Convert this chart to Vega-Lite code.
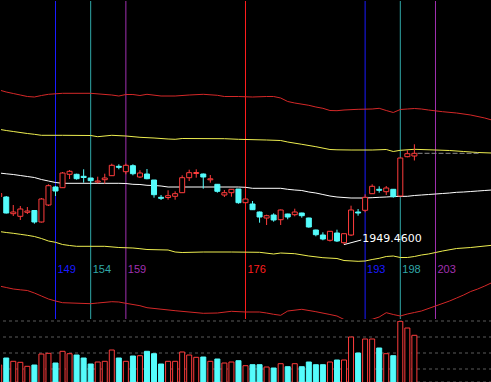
{
  "$schema": "https://vega.github.io/schema/vega-lite/v6.json",
  "background": "#000000",
  "padding": 0,
  "spacing": 0,
  "config": {"view": {"stroke": null}, "concat": {"spacing": 0}},
  "resolve": {"scale": {"x": "independent", "y": "independent", "color": "independent", "fill": "independent", "stroke": "independent"}},
  "datasets": {
    "cycles": [
      {"i": 149, "kind": "a"}, {"i": 154, "kind": "b"}, {"i": 159, "kind": "c"}, {"i": 176, "kind": "m"},
      {"i": 193, "kind": "a"}, {"i": 198, "kind": "b"}, {"i": 203, "kind": "c"}
    ],
    "candles": [
      {"i":141,"d":"up","o":2069.71,"h":2083.46,"l":2065.96,"c":2077.21,"v":400},
      {"i":142,"d":"dn","o":2068.46,"h":2070.96,"l":2027.21,"c":2028.46,"v":540},
      {"i":143,"d":"up","o":2026.71,"h":2048.46,"l":2020.96,"c":2030.96,"v":474},
      {"i":144,"d":"up","o":2020.21,"h":2045.96,"l":2010.96,"c":2038.46,"v":454},
      {"i":145,"d":"up","o":2030.21,"h":2043.46,"l":2025.96,"c":2033.46,"v":374},
      {"i":146,"d":"dn","o":2034.71,"h":2035.96,"l":2001.71,"c":2005.96,"v":400},
      {"i":147,"d":"up","o":2005.96,"h":2065.96,"l":2004.71,"c":2063.46,"v":620},
      {"i":148,"d":"up","o":2048.46,"h":2100.21,"l":2045.96,"c":2096.71,"v":634},
      {"i":149,"d":"dn","o":2093.46,"h":2095.96,"l":2070.96,"c":2083.46,"v":440},
      {"i":150,"d":"up","o":2091.71,"h":2130.96,"l":2090.96,"c":2128.46,"v":674},
      {"i":151,"d":"up","o":2125.21,"h":2135.96,"l":2113.46,"c":2132.71,"v":626},
      {"i":152,"d":"dn","o":2125.21,"h":2126.71,"l":2111.71,"c":2114.21,"v":600},
      {"i":153,"d":"dn","o":2120.21,"h":2137.71,"l":2104.21,"c":2117.21,"v":540},
      {"i":154,"d":"dn","o":2115.96,"h":2115.96,"l":2100.21,"c":2109.21,"v":420},
      {"i":155,"d":"up","o":2105.96,"h":2119.21,"l":2102.71,"c":2108.46,"v":460},
      {"i":156,"d":"up","o":2111.71,"h":2126.71,"l":2101.71,"c":2115.96,"v":474},
      {"i":157,"d":"up","o":2121.71,"h":2151.71,"l":2120.96,"c":2147.71,"v":700},
      {"i":158,"d":"dn","o":2145.21,"h":2150.21,"l":2137.71,"c":2142.71,"v":540},
      {"i":159,"d":"up","o":2131.71,"h":2151.71,"l":2125.21,"c":2147.71,"v":474},
      {"i":160,"d":"dn","o":2146.71,"h":2150.21,"l":2122.71,"c":2126.71,"v":580},
      {"i":161,"d":"up","o":2118.46,"h":2135.21,"l":2115.96,"c":2128.46,"v":586},
      {"i":162,"d":"dn","o":2125.96,"h":2138.46,"l":2112.71,"c":2114.21,"v":674},
      {"i":163,"d":"dn","o":2110.96,"h":2110.96,"l":2066.71,"c":2074.21,"v":626},
      {"i":164,"d":"dn","o":2067.71,"h":2073.46,"l":2060.96,"c":2065.21,"v":420},
      {"i":165,"d":"up","o":2067.21,"h":2085.21,"l":2061.71,"c":2071.71,"v":474},
      {"i":166,"d":"up","o":2070.21,"h":2082.71,"l":2061.71,"c":2076.71,"v":474},
      {"i":167,"d":"up","o":2079.21,"h":2122.71,"l":2078.46,"c":2116.71,"v":660},
      {"i":168,"d":"up","o":2116.71,"h":2136.71,"l":2108.46,"c":2129.21,"v":600},
      {"i":169,"d":"up","o":2127.21,"h":2137.71,"l":2116.71,"c":2129.71,"v":554},
      {"i":170,"d":"dn","o":2125.96,"h":2127.21,"l":2089.21,"c":2118.46,"v":560},
      {"i":171,"d":"up","o":2111.46,"h":2123.46,"l":2104.21,"c":2113.96,"v":474},
      {"i":172,"d":"dn","o":2100.21,"h":2100.96,"l":2079.21,"c":2082.71,"v":520},
      {"i":173,"d":"up","o":2073.46,"h":2085.96,"l":2068.46,"c":2079.21,"v":440},
      {"i":174,"d":"up","o":2079.21,"h":2088.46,"l":2069.21,"c":2087.71,"v":460},
      {"i":175,"d":"dn","o":2088.46,"h":2088.46,"l":2051.71,"c":2054.21,"v":486},
      {"i":176,"d":"up","o":2054.21,"h":2064.71,"l":2053.46,"c":2063.46,"v":386},
      {"i":177,"d":"dn","o":2050.96,"h":2058.46,"l":2035.96,"c":2036.71,"v":406},
      {"i":178,"d":"dn","o":2030.96,"h":2032.21,"l":2004.21,"c":2018.46,"v":406},
      {"i":179,"d":"up","o":2015.96,"h":2024.21,"l":1998.46,"c":2021.71,"v":360},
      {"i":180,"d":"dn","o":2023.46,"h":2027.71,"l":2006.71,"c":2010.96,"v":340},
      {"i":181,"d":"up","o":2011.71,"h":2037.21,"l":1998.46,"c":2035.96,"v":426},
      {"i":182,"d":"dn","o":2025.96,"h":2026.71,"l":2012.71,"c":2018.46,"v":366},
      {"i":183,"d":"up","o":2024.21,"h":2039.21,"l":2020.21,"c":2030.96,"v":426},
      {"i":184,"d":"dn","o":2028.46,"h":2029.21,"l":2016.71,"c":2021.71,"v":366},
      {"i":185,"d":"dn","o":2015.96,"h":2016.71,"l":1991.71,"c":1993.46,"v":460},
      {"i":186,"d":"dn","o":1985.96,"h":1986.71,"l":1970.21,"c":1974.21,"v":406},
      {"i":187,"d":"dn","o":1973.46,"h":1980.21,"l":1960.21,"c":1963.46,"v":406},
      {"i":188,"d":"up","o":1960.21,"h":1983.46,"l":1957.21,"c":1982.71,"v":460},
      {"i":189,"d":"dn","o":1978.46,"h":1986.71,"l":1955.96,"c":1958.46,"v":500},
      {"i":190,"d":"up","o":1954.21,"h":1977.21,"l":1949.46,"c":1976.71,"v":500},
      {"i":191,"d":"up","o":1973.46,"h":2046.71,"l":1970.96,"c":2035.96,"v":960},
      {"i":192,"d":"dn","o":2030.96,"h":2038.46,"l":2021.71,"c":2028.46,"v":640},
      {"i":193,"d":"up","o":2035.21,"h":2075.21,"l":2030.21,"c":2067.71,"v":920},
      {"i":194,"d":"up","o":2076.71,"h":2100.21,"l":2075.96,"c":2095.21,"v":920},
      {"i":195,"d":"dn","o":2087.71,"h":2095.21,"l":2079.21,"c":2085.21,"v":740},
      {"i":196,"d":"up","o":2081.71,"h":2095.96,"l":2073.46,"c":2090.96,"v":626},
      {"i":197,"d":"dn","o":2087.71,"h":2088.46,"l":2066.71,"c":2069.21,"v":586},
      {"i":198,"d":"up","o":2070.96,"h":2165.96,"l":2070.21,"c":2165.96,"v":1274},
      {"i":199,"d":"up","o":2169.21,"h":2185.21,"l":2167.71,"c":2176.71,"v":1140},
      {"i":200,"d":"up","o":2170.96,"h":2200.21,"l":2159.71,"c":2177.71,"v":994}
    ],
    "bands": [
      {"i":141,"b":"ru","p":2335.96},{"i":142,"b":"ru","p":2330.96},{"i":143,"b":"ru","p":2327.21},{"i":144,"b":"ru","p":2323.46},
      {"i":145,"b":"ru","p":2319.71},{"i":146,"b":"ru","p":2318.46},{"i":147,"b":"ru","p":2322.21},{"i":148,"b":"ru","p":2325.21},
      {"i":150,"b":"ru","p":2327.71},{"i":154,"b":"ru","p":2327.71},{"i":157,"b":"ru","p":2323.46},{"i":158,"b":"ru","p":2320.96},
      {"i":159,"b":"ru","p":2324.71},{"i":160,"b":"ru","p":2324.71},{"i":161,"b":"ru","p":2322.21},{"i":162,"b":"ru","p":2325.21},
      {"i":164,"b":"ru","p":2320.96},{"i":166,"b":"ru","p":2320.96},{"i":168,"b":"ru","p":2323.46},{"i":170,"b":"ru","p":2325.21},
      {"i":172,"b":"ru","p":2322.71},{"i":173,"b":"ru","p":2319.71},{"i":175,"b":"ru","p":2319.71},{"i":177,"b":"ru","p":2318.46},
      {"i":179,"b":"ru","p":2319.71},{"i":180,"b":"ru","p":2319.71},{"i":181,"b":"ru","p":2315.96},{"i":182,"b":"ru","p":2307.21},
      {"i":183,"b":"ru","p":2303.46},{"i":185,"b":"ru","p":2297.71},{"i":186,"b":"ru","p":2293.46},{"i":187,"b":"ru","p":2290.21},
      {"i":188,"b":"ru","p":2284.71},{"i":189,"b":"ru","p":2284.21},{"i":190,"b":"ru","p":2285.96},{"i":192,"b":"ru","p":2287.71},
      {"i":194,"b":"ru","p":2288.46},{"i":195,"b":"ru","p":2290.21},{"i":196,"b":"ru","p":2284.71},{"i":197,"b":"ru","p":2279.71},
      {"i":198,"b":"ru","p":2287.21},{"i":199,"b":"ru","p":2288.46},{"i":200,"b":"ru","p":2289.71},{"i":201,"b":"ru","p":2288.46},
      {"i":202,"b":"ru","p":2285.96},{"i":204,"b":"ru","p":2281.71},{"i":206,"b":"ru","p":2278.46},{"i":208,"b":"ru","p":2273.46},
      {"i":210,"b":"ru","p":2265.96},{"i":211,"b":"ru","p":2260.96},

      {"i":141,"b":"yu","p":2237.71},{"i":142,"b":"yu","p":2234.71},{"i":143,"b":"yu","p":2232.21},{"i":145,"b":"yu","p":2227.21},
      {"i":146,"b":"yu","p":2225.21},{"i":147,"b":"yu","p":2222.71},{"i":150,"b":"yu","p":2222.71},{"i":154,"b":"yu","p":2222.21},
      {"i":155,"b":"yu","p":2219.21},{"i":157,"b":"yu","p":2222.71},{"i":159,"b":"yu","p":2220.96},{"i":161,"b":"yu","p":2217.71},
      {"i":163,"b":"yu","p":2215.96},{"i":165,"b":"yu","p":2213.46},{"i":166,"b":"yu","p":2212.71},{"i":167,"b":"yu","p":2214.71},
      {"i":173,"b":"yu","p":2214.21},{"i":175,"b":"yu","p":2212.71},{"i":179,"b":"yu","p":2210.96},{"i":181,"b":"yu","p":2209.71},
      {"i":182,"b":"yu","p":2205.96},{"i":184,"b":"yu","p":2200.21},{"i":186,"b":"yu","p":2194.21},{"i":188,"b":"yu","p":2187.21},
      {"i":189,"b":"yu","p":2186.46},{"i":191,"b":"yu","p":2185.96},{"i":194,"b":"yu","p":2185.96},{"i":196,"b":"yu","p":2187.21},
      {"i":197,"b":"yu","p":2182.21},{"i":198,"b":"yu","p":2185.21},{"i":200,"b":"yu","p":2187.71},{"i":203,"b":"yu","p":2185.96},
      {"i":205,"b":"yu","p":2184.71},{"i":207,"b":"yu","p":2182.21},{"i":209,"b":"yu","p":2179.71},{"i":211,"b":"yu","p":2178.46},

      {"i":141,"b":"md","p":2128.46},{"i":142,"b":"md","p":2126.46},{"i":143,"b":"md","p":2124.71},{"i":144,"b":"md","p":2122.21},
      {"i":145,"b":"md","p":2119.71},{"i":146,"b":"md","p":2117.21},{"i":147,"b":"md","p":2112.21},{"i":148,"b":"md","p":2108.46},
      {"i":149,"b":"md","p":2104.71},{"i":150,"b":"md","p":2102.71},{"i":158,"b":"md","p":2102.71},{"i":159,"b":"md","p":2102.21},
      {"i":160,"b":"md","p":2100.21},{"i":161,"b":"md","p":2099.71},{"i":162,"b":"md","p":2097.71},{"i":163,"b":"md","p":2097.21},
      {"i":164,"b":"md","p":2095.96},{"i":165,"b":"md","p":2093.46},{"i":175,"b":"md","p":2093.46},{"i":176,"b":"md","p":2092.71},
      {"i":177,"b":"md","p":2090.21},{"i":181,"b":"md","p":2090.21},{"i":182,"b":"md","p":2087.71},{"i":183,"b":"md","p":2085.96},
      {"i":184,"b":"md","p":2084.71},{"i":185,"b":"md","p":2080.96},{"i":186,"b":"md","p":2078.46},{"i":187,"b":"md","p":2074.71},
      {"i":188,"b":"md","p":2070.96},{"i":189,"b":"md","p":2068.46},{"i":190,"b":"md","p":2067.21},{"i":191,"b":"md","p":2065.96},
      {"i":193,"b":"md","p":2065.96},{"i":194,"b":"md","p":2066.71},{"i":195,"b":"md","p":2067.71},{"i":196,"b":"md","p":2068.46},
      {"i":197,"b":"md","p":2069.71},{"i":199,"b":"md","p":2070.21},{"i":200,"b":"md","p":2072.21},{"i":201,"b":"md","p":2073.46},
      {"i":202,"b":"md","p":2074.71},{"i":203,"b":"md","p":2075.96},{"i":204,"b":"md","p":2077.21},{"i":205,"b":"md","p":2078.46},
      {"i":206,"b":"md","p":2080.21},{"i":207,"b":"md","p":2080.96},{"i":208,"b":"md","p":2082.21},{"i":209,"b":"md","p":2083.46},
      {"i":210,"b":"md","p":2084.71},{"i":211,"b":"md","p":2085.96},

      {"i":141,"b":"yl","p":1982.21},{"i":142,"b":"yl","p":1979.71},{"i":143,"b":"yl","p":1977.71},{"i":144,"b":"yl","p":1975.21},
      {"i":145,"b":"yl","p":1972.71},{"i":146,"b":"yl","p":1969.71},{"i":147,"b":"yl","p":1964.71},{"i":148,"b":"yl","p":1958.46},
      {"i":149,"b":"yl","p":1955.21},{"i":150,"b":"yl","p":1949.71},{"i":151,"b":"yl","p":1947.21},{"i":152,"b":"yl","p":1945.21},
      {"i":156,"b":"yl","p":1945.21},{"i":158,"b":"yl","p":1942.21},{"i":160,"b":"yl","p":1940.96},{"i":161,"b":"yl","p":1939.21},
      {"i":162,"b":"yl","p":1937.21},{"i":165,"b":"yl","p":1935.96},{"i":166,"b":"yl","p":1930.96},{"i":167,"b":"yl","p":1929.71},
      {"i":170,"b":"yl","p":1930.96},{"i":174,"b":"yl","p":1930.96},{"i":178,"b":"yl","p":1930.21},{"i":180,"b":"yl","p":1925.96},
      {"i":181,"b":"yl","p":1928.46},{"i":183,"b":"yl","p":1926.71},{"i":185,"b":"yl","p":1920.96},{"i":187,"b":"yl","p":1916.71},
      {"i":189,"b":"yl","p":1914.71},{"i":190,"b":"yl","p":1909.71},{"i":192,"b":"yl","p":1907.71},{"i":193,"b":"yl","p":1908.46},
      {"i":194,"b":"yl","p":1912.21},{"i":195,"b":"yl","p":1915.21},{"i":196,"b":"yl","p":1919.71},{"i":197,"b":"yl","p":1920.96},
      {"i":198,"b":"yl","p":1917.21},{"i":199,"b":"yl","p":1917.21},{"i":200,"b":"yl","p":1919.71},{"i":201,"b":"yl","p":1923.46},
      {"i":202,"b":"yl","p":1925.96},{"i":203,"b":"yl","p":1929.71},{"i":204,"b":"yl","p":1933.46},{"i":206,"b":"yl","p":1939.71},
      {"i":208,"b":"yl","p":1942.21},{"i":211,"b":"yl","p":1947.71},

      {"i":141,"b":"rl","p":1845.96},{"i":142,"b":"rl","p":1842.21},{"i":143,"b":"rl","p":1838.46},{"i":144,"b":"rl","p":1836.46},
      {"i":145,"b":"rl","p":1834.71},{"i":146,"b":"rl","p":1828.46},{"i":147,"b":"rl","p":1820.96},{"i":148,"b":"rl","p":1813.46},
      {"i":149,"b":"rl","p":1808.46},{"i":150,"b":"rl","p":1804.21},{"i":154,"b":"rl","p":1801.71},{"i":155,"b":"rl","p":1803.46},
      {"i":157,"b":"rl","p":1806.71},{"i":158,"b":"rl","p":1805.96},{"i":159,"b":"rl","p":1802.71},{"i":161,"b":"rl","p":1796.71},
      {"i":162,"b":"rl","p":1791.71},{"i":166,"b":"rl","p":1784.21},{"i":170,"b":"rl","p":1777.71},{"i":172,"b":"rl","p":1778.46},
      {"i":174,"b":"rl","p":1782.71},{"i":176,"b":"rl","p":1780.96},{"i":178,"b":"rl","p":1780.96},{"i":179,"b":"rl","p":1778.46},
      {"i":180,"b":"rl","p":1775.21},{"i":181,"b":"rl","p":1772.71},{"i":182,"b":"rl","p":1783.46},{"i":184,"b":"rl","p":1787.71},
      {"i":186,"b":"rl","p":1781.71},{"i":188,"b":"rl","p":1774.71},{"i":189,"b":"rl","p":1770.96},{"i":190,"b":"rl","p":1762.21},
      {"i":192,"b":"rl","p":1758.46},{"i":193,"b":"rl","p":1760.96},{"i":194,"b":"rl","p":1762.71},{"i":195,"b":"rl","p":1768.46},
      {"i":196,"b":"rl","p":1779.21},{"i":197,"b":"rl","p":1774.71},{"i":198,"b":"rl","p":1770.96},{"i":199,"b":"rl","p":1775.96},
      {"i":200,"b":"rl","p":1779.71},{"i":201,"b":"rl","p":1783.46},{"i":203,"b":"rl","p":1795.96},{"i":205,"b":"rl","p":1808.46},
      {"i":206,"b":"rl","p":1815.96},{"i":207,"b":"rl","p":1823.46},{"i":208,"b":"rl","p":1832.21},{"i":209,"b":"rl","p":1838.46},
      {"i":210,"b":"rl","p":1845.96},{"i":211,"b":"rl","p":1854.21}
    ],
    "note": [{"i": 190, "p": 1949.46, "i2": 192.45, "p2": 1960.96, "ti": 192.6, "tp": 1963.46, "t": "1949.4600"}],
    "last": [{"i": 200.45, "i2": 209.2, "p": 2177.71}],
    "grid": [{"v": 1280}, {"v": 960}, {"v": 640}, {"v": 320}, {"v": 60}]
  },
  "vconcat": [
    {
      "width": 491,
      "height": 318,
      "resolve": {"scale": {"color": "independent", "fill": "independent", "stroke": "independent"}},
      "encoding": {
        "x": {"field": "i", "type": "quantitative", "scale": {"domain": [141.255, 211.03], "nice": false, "zero": false, "padding": 0}, "axis": null}
      },
      "layer": [
        {
          "data": {"name": "cycles"},
          "mark": {"type": "rule", "strokeWidth": 1},
          "encoding": {
            "color": {"field": "kind", "type": "nominal", "scale": {"domain": ["a", "b", "c", "m"], "range": ["#1a1aff", "#30a8a8", "#a030b0", "#ff1e1e"]}, "legend": null}
          }
        },
        {
          "data": {"name": "cycles"},
          "mark": {"type": "text", "align": "left", "baseline": "middle", "dx": 2, "font": "Liberation Sans", "fontSize": 11},
          "encoding": {
            "y": {"datum": 1885.96, "type": "quantitative", "scale": {"domain": [1763.46, 2558.46], "nice": false, "zero": false}, "axis": null},
            "text": {"field": "i", "type": "quantitative", "format": "d"},
            "color": {"field": "kind", "type": "nominal", "scale": {"domain": ["a", "b", "c", "m"], "range": ["#1a1aff", "#30a8a8", "#a030b0", "#ff1e1e"]}, "legend": null}
          }
        },
        {
          "data": {"name": "bands"},
          "mark": {"type": "line", "strokeWidth": 1, "clip": true},
          "encoding": {
            "y": {"field": "p", "type": "quantitative", "scale": {"domain": [1763.46, 2558.46], "nice": false, "zero": false}, "axis": null},
            "color": {"field": "b", "type": "nominal", "scale": {"domain": ["ru", "yu", "md", "yl", "rl"], "range": ["#d42828", "#eeee50", "#ffffff", "#eeee50", "#d42828"]}, "legend": null}
          }
        },
        {
          "data": {"name": "candles"},
          "mark": {"type": "rule", "strokeWidth": 1, "clip": true},
          "encoding": {
            "y": {"field": "l", "type": "quantitative", "scale": {"domain": [1763.46, 2558.46], "nice": false, "zero": false}, "axis": null},
            "y2": {"field": "h"},
            "color": {"field": "d", "type": "nominal", "scale": {"domain": ["up", "dn"], "range": ["#ff3c3c", "#54fcfc"]}, "legend": null}
          }
        },
        {
          "data": {"name": "candles"},
          "mark": {"type": "bar", "width": 5, "strokeWidth": 1, "clip": true},
          "encoding": {
            "y": {"field": "o", "type": "quantitative", "scale": {"domain": [1763.46, 2558.46], "nice": false, "zero": false}, "axis": null},
            "y2": {"field": "c"},
            "fill": {"field": "d", "type": "nominal", "scale": {"domain": ["up", "dn"], "range": ["#000000", "#54fcfc"]}, "legend": null},
            "stroke": {"field": "d", "type": "nominal", "scale": {"domain": ["up", "dn"], "range": ["#ff3c3c", "#54fcfc"]}, "legend": null}
          }
        },
        {
          "data": {"name": "note"},
          "mark": {"type": "rule", "color": "#ffffff", "strokeWidth": 1},
          "encoding": {
            "y": {"field": "p", "type": "quantitative", "scale": {"domain": [1763.46, 2558.46], "nice": false, "zero": false}, "axis": null},
            "x2": {"field": "i2"},
            "y2": {"field": "p2"}
          }
        },
        {
          "data": {"name": "note"},
          "mark": {"type": "text", "align": "left", "baseline": "middle", "color": "#ffffff", "font": "DejaVu Sans", "fontSize": 11},
          "encoding": {
            "x": {"field": "ti", "type": "quantitative", "axis": null},
            "y": {"field": "tp", "type": "quantitative", "scale": {"domain": [1763.46, 2558.46], "nice": false, "zero": false}, "axis": null},
            "text": {"field": "t", "type": "nominal"}
          }
        },
        {
          "data": {"name": "last"},
          "mark": {"type": "rule", "color": "#8c8c8c", "strokeWidth": 1, "strokeDash": [5, 2]},
          "encoding": {
            "x2": {"field": "i2"},
            "y": {"field": "p", "type": "quantitative", "scale": {"domain": [1763.46, 2558.46], "nice": false, "zero": false}, "axis": null}
          }
        }
      ]
    },
    {
      "width": 491,
      "height": 64,
      "resolve": {"scale": {"fill": "independent", "stroke": "independent"}},
      "layer": [
        {
          "data": {"name": "grid"},
          "mark": {"type": "rule", "color": "#5a5a5a", "strokeWidth": 1, "strokeDash": [3, 3]},
          "encoding": {
            "y": {"field": "v", "type": "quantitative", "scale": {"domain": [0, 1280], "nice": false, "zero": true}, "axis": null}
          }
        },
        {
          "data": {"name": "candles"},
          "mark": {"type": "bar", "width": 5, "strokeWidth": 1, "clip": true},
          "encoding": {
            "x": {"field": "i", "type": "quantitative", "scale": {"domain": [141.255, 211.03], "nice": false, "zero": false, "padding": 0}, "axis": null},
            "y": {"field": "v", "type": "quantitative", "scale": {"domain": [0, 1280], "nice": false, "zero": true}, "axis": null},
            "fill": {"field": "d", "type": "nominal", "scale": {"domain": ["up", "dn"], "range": ["#000000", "#54fcfc"]}, "legend": null},
            "stroke": {"field": "d", "type": "nominal", "scale": {"domain": ["up", "dn"], "range": ["#ff3c3c", "#54fcfc"]}, "legend": null}
          }
        }
      ]
    }
  ]
}
